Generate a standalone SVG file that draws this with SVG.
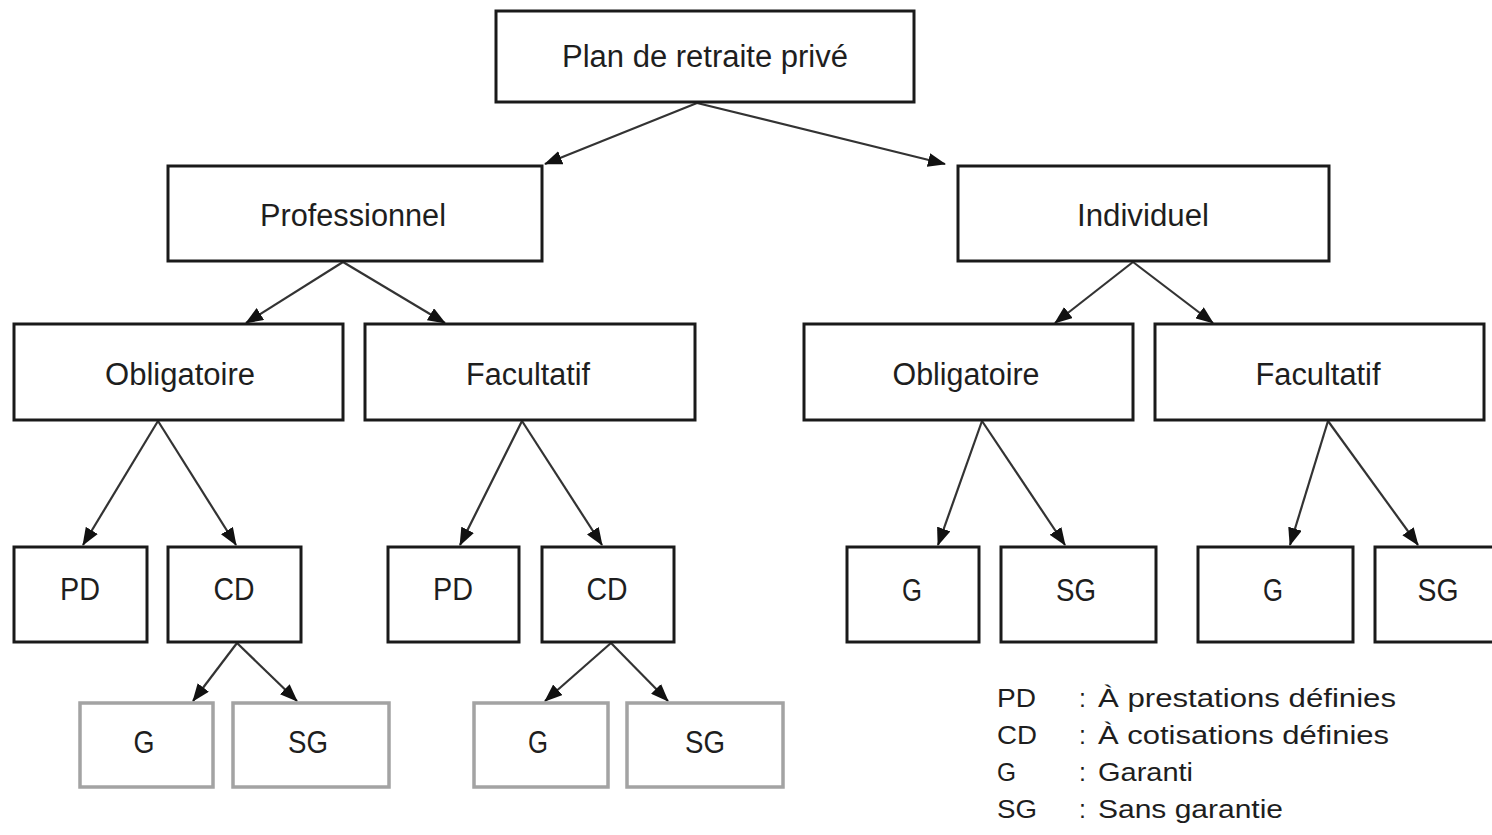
<svg xmlns="http://www.w3.org/2000/svg" width="1492" height="835" viewBox="0 0 1492 835">
<defs>
<style>
.box{fill:#fff;stroke:#1a1a1a;stroke-width:3}
.gbox{fill:#fff;stroke:#a3a3a3;stroke-width:3.5}
.lbl{font-family:"Liberation Sans",Arial,sans-serif;font-size:31px;fill:#1e1e1e;text-anchor:middle}
.leg{font-family:"Liberation Sans",Arial,sans-serif;font-size:25px;fill:#1e1e1e}
.conn line{stroke:#333;stroke-width:2.2;marker-end:url(#arr)}
</style>
<marker id="arr" markerUnits="userSpaceOnUse" markerWidth="18" markerHeight="14" viewBox="0 0 18 14" refX="17" refY="7" orient="auto">
<path d="M0,0 L18,7 L0,14 Z" fill="#111"/>
</marker>
</defs>
<rect width="1492" height="835" fill="#fff"/>

<g id="connectors" class="conn">
<line x1="697" y1="103" x2="545" y2="164"/>
<line x1="697" y1="103" x2="945" y2="164"/>
<line x1="343" y1="262" x2="246" y2="323"/>
<line x1="343" y1="262" x2="445" y2="323"/>
<line x1="1133" y1="262" x2="1055" y2="323"/>
<line x1="1133" y1="262" x2="1213" y2="323"/>
<line x1="158" y1="421" x2="83" y2="545"/>
<line x1="158" y1="421" x2="236" y2="545"/>
<line x1="522" y1="421" x2="460" y2="545"/>
<line x1="522" y1="421" x2="602" y2="545"/>
<line x1="982" y1="421" x2="938" y2="545"/>
<line x1="982" y1="421" x2="1065" y2="545"/>
<line x1="1328" y1="421" x2="1290" y2="545"/>
<line x1="1328" y1="421" x2="1418" y2="545"/>
<line x1="237" y1="643" x2="193" y2="701"/>
<line x1="237" y1="643" x2="297" y2="701"/>
<line x1="611" y1="643" x2="545" y2="701"/>
<line x1="611" y1="643" x2="668" y2="701"/>
</g>

<g id="n-plan"><rect class="box" x="496" y="11" width="418" height="91"/><text class="lbl" x="705" y="67" textLength="286" lengthAdjust="spacingAndGlyphs">Plan de retraite privé</text></g>

<g id="n-pro"><rect class="box" x="168" y="166" width="374" height="95"/><text class="lbl" x="353" y="226" textLength="186" lengthAdjust="spacingAndGlyphs">Professionnel</text></g>
<g id="n-ind"><rect class="box" x="958" y="166" width="371" height="95"/><text class="lbl" x="1143" y="226" textLength="132" lengthAdjust="spacingAndGlyphs">Individuel</text></g>

<g id="n-pro-obl"><rect class="box" x="14" y="324" width="329" height="96"/><text class="lbl" x="180" y="385" textLength="150" lengthAdjust="spacingAndGlyphs">Obligatoire</text></g>
<g id="n-pro-fac"><rect class="box" x="365" y="324" width="330" height="96"/><text class="lbl" x="528" y="385" textLength="124" lengthAdjust="spacingAndGlyphs">Facultatif</text></g>
<g id="n-ind-obl"><rect class="box" x="804" y="324" width="329" height="96"/><text class="lbl" x="966" y="385" textLength="147" lengthAdjust="spacingAndGlyphs">Obligatoire</text></g>
<g id="n-ind-fac"><rect class="box" x="1155" y="324" width="329" height="96"/><text class="lbl" x="1318" y="385" textLength="125" lengthAdjust="spacingAndGlyphs">Facultatif</text></g>

<g id="n-pro-obl-pd"><rect class="box" x="14" y="547" width="133" height="95"/><text class="lbl" x="80" y="600" textLength="40" lengthAdjust="spacingAndGlyphs">PD</text></g>
<g id="n-pro-obl-cd"><rect class="box" x="168" y="547" width="133" height="95"/><text class="lbl" x="234" y="600" textLength="41" lengthAdjust="spacingAndGlyphs">CD</text></g>
<g id="n-pro-fac-pd"><rect class="box" x="388" y="547" width="131" height="95"/><text class="lbl" x="453" y="600" textLength="40" lengthAdjust="spacingAndGlyphs">PD</text></g>
<g id="n-pro-fac-cd"><rect class="box" x="542" y="547" width="132" height="95"/><text class="lbl" x="607" y="600" textLength="41" lengthAdjust="spacingAndGlyphs">CD</text></g>
<g id="n-ind-obl-g"><rect class="box" x="847" y="547" width="132" height="95"/><text class="lbl" x="912" y="601" textLength="20" lengthAdjust="spacingAndGlyphs">G</text></g>
<g id="n-ind-obl-sg"><rect class="box" x="1001" y="547" width="155" height="95"/><text class="lbl" x="1076" y="601" textLength="40" lengthAdjust="spacingAndGlyphs">SG</text></g>
<g id="n-ind-fac-g"><rect class="box" x="1198" y="547" width="155" height="95"/><text class="lbl" x="1273" y="601" textLength="20" lengthAdjust="spacingAndGlyphs">G</text></g>
<g id="n-ind-fac-sg"><rect class="box" x="1375" y="547" width="140" height="95"/><text class="lbl" x="1438" y="601" textLength="41" lengthAdjust="spacingAndGlyphs">SG</text></g>

<g id="n-pro-obl-cd-g"><rect class="gbox" x="80" y="703" width="133" height="84"/><text class="lbl" x="144" y="753" textLength="21" lengthAdjust="spacingAndGlyphs">G</text></g>
<g id="n-pro-obl-cd-sg"><rect class="gbox" x="233" y="703" width="156" height="84"/><text class="lbl" x="308" y="753" textLength="40" lengthAdjust="spacingAndGlyphs">SG</text></g>
<g id="n-pro-fac-cd-g"><rect class="gbox" x="474" y="703" width="134" height="84"/><text class="lbl" x="538" y="753" textLength="20" lengthAdjust="spacingAndGlyphs">G</text></g>
<g id="n-pro-fac-cd-sg"><rect class="gbox" x="627" y="703" width="156" height="84"/><text class="lbl" x="705" y="753" textLength="40" lengthAdjust="spacingAndGlyphs">SG</text></g>

<g id="legend" class="leg">
<text x="997" y="707" textLength="39" lengthAdjust="spacingAndGlyphs">PD</text>
<text x="1079" y="707">:</text>
<text x="1098" y="707" textLength="298" lengthAdjust="spacingAndGlyphs">À prestations définies</text>
<text x="997" y="744" textLength="40" lengthAdjust="spacingAndGlyphs">CD</text>
<text x="1079" y="744">:</text>
<text x="1098" y="744" textLength="291" lengthAdjust="spacingAndGlyphs">À cotisations définies</text>
<text x="997" y="781" textLength="19" lengthAdjust="spacingAndGlyphs">G</text>
<text x="1079" y="781">:</text>
<text x="1098" y="781" textLength="95" lengthAdjust="spacingAndGlyphs">Garanti</text>
<text x="997" y="818" textLength="40" lengthAdjust="spacingAndGlyphs">SG</text>
<text x="1079" y="818">:</text>
<text x="1098" y="818" textLength="185" lengthAdjust="spacingAndGlyphs">Sans garantie</text>
</g>
</svg>
